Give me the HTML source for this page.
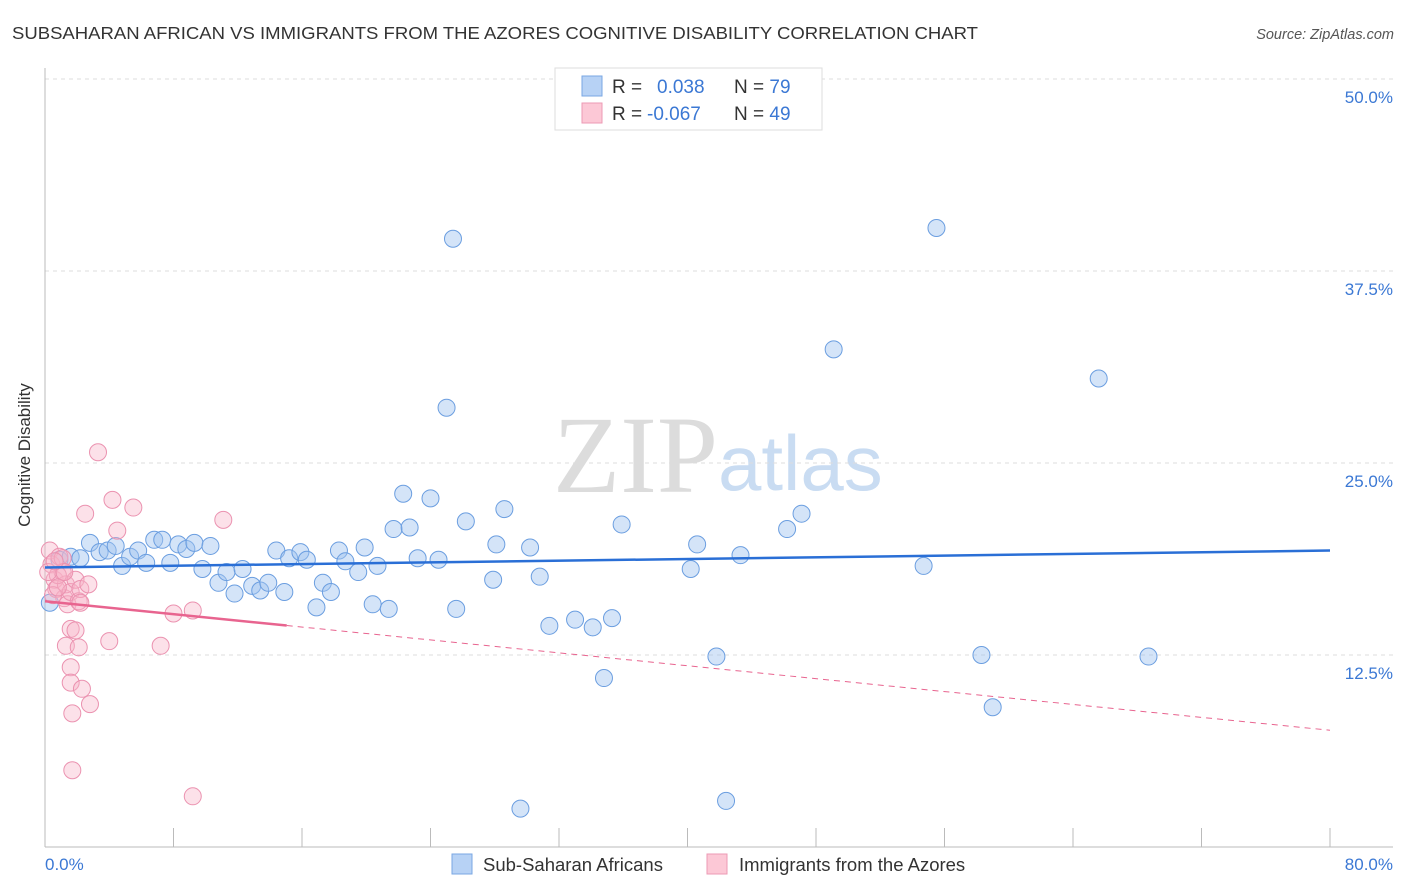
<!DOCTYPE html>
<html><head><meta charset="utf-8"><style>
body{margin:0;background:#fff;font-family:"Liberation Sans",sans-serif}
svg{display:block}
</style></head><body>
<svg width="1406" height="892" id="c">
<text x="12" y="39" font-size="17.5" fill="#333" textLength="966" lengthAdjust="spacingAndGlyphs">SUBSAHARAN AFRICAN VS IMMIGRANTS FROM THE AZORES COGNITIVE DISABILITY CORRELATION CHART</text>
<text x="1394" y="39" font-size="14.5" fill="#555" font-style="italic" text-anchor="end">Source: ZipAtlas.com</text>
<text x="553" y="492" font-size="110" fill="#dcdcdc" font-family="Liberation Serif,serif">ZIP</text>
<text x="718" y="490" font-size="78" fill="#c9dcf2">atlas</text>
<g id="grid"></g>
<line x1="45" y1="68" x2="45" y2="847" stroke="#bbb"/>
<line x1="45" y1="847" x2="1393" y2="847" stroke="#bbb"/>
<text x="30" y="455" font-size="17" fill="#333" text-anchor="middle" transform="rotate(-90 30 455)">Cognitive Disability</text>
<text x="45" y="870" font-size="17" fill="#3b78d4">0.0%</text>
<text x="1393" y="870" font-size="17" fill="#3b78d4" text-anchor="end">80.0%</text>
<g id="pts"></g>
<g>
<rect x="555" y="68" width="267" height="62" fill="#fff" stroke="#ddd"/>
<rect x="582" y="76" width="20" height="20" fill="#b7d2f5" stroke="#7aa7e3"/>
<rect x="582" y="103" width="20" height="20" fill="#fcc8d6" stroke="#ec9ab4"/>
<text x="612" y="93" font-size="19" fill="#333">R = <tspan fill="#3b78d4" x="657">0.038</tspan><tspan x="734" fill="#333">N = </tspan><tspan fill="#3b78d4">79</tspan></text>
<text x="612" y="120" font-size="19" fill="#333">R = <tspan fill="#3b78d4" x="647">-0.067</tspan><tspan x="734" fill="#333">N = </tspan><tspan fill="#3b78d4">49</tspan></text>
</g>
<g>
<rect x="452" y="854" width="20" height="20" fill="#b7d2f5" stroke="#7aa7e3"/>
<text x="483" y="871" font-size="18.5" fill="#333">Sub-Saharan Africans</text>
<rect x="707" y="854" width="20" height="20" fill="#fcc8d6" stroke="#ec9ab4"/>
<text x="739" y="871" font-size="18.5" fill="#333">Immigrants from the Azores</text>
</g>
</svg>
<script>
const yTicks=[12.5,25,37.5,50];
const xTickCount=[8,16,24,32,40,48,56,64,72,80];
const blueX=[0.3,0.9,1.6,2.2,2.8,3.4,3.9,4.4,4.8,5.3,5.8,6.3,6.8,7.3,7.8,8.3,8.8,9.3,9.8,10.3,10.8,11.3,11.8,12.3,12.9,13.4,13.9,14.4,14.9,15.2,15.9,16.3,16.9,17.3,17.8,18.3,18.7,19.5,19.9,20.4,20.7,21.4,21.7,22.3,22.7,23.2,24.0,24.5,25.0,25.4,25.6,26.2,27.9,28.1,28.6,29.6,30.2,30.8,31.4,33.0,34.1,34.8,35.3,35.9,40.2,40.6,41.8,42.4,43.3,46.2,47.1,49.1,54.7,55.5,58.3,59.0,65.6,68.7];
const blueY=[15.9,18.7,18.9,18.8,19.8,19.2,19.3,19.6,18.3,18.9,19.3,18.5,20.0,20.0,18.5,19.7,19.4,19.8,18.1,19.6,17.2,17.9,16.5,18.1,17.0,16.7,17.2,19.3,16.6,18.8,19.2,18.7,15.6,17.2,16.6,19.3,18.6,17.9,19.5,15.8,18.3,15.5,20.7,23.0,20.8,18.8,22.7,18.7,28.6,39.6,15.5,21.2,17.4,19.7,22.0,2.5,19.5,17.6,14.4,14.8,14.3,11.0,14.9,21.0,18.1,19.7,12.4,3.0,19.0,20.7,21.7,32.4,18.3,40.3,12.5,9.1,30.5,12.4];
const pinkX=[0.3,0.4,0.6,0.7,0.9,1.1,1.2,1.3,1.4,1.6,0.8,0.5,1.1,1.9,2.1,2.2,2.5,2.7,2.2,1.6,1.9,1.3,2.1,1.6,1.6,2.3,1.7,2.8,1.7,3.3,4.2,4.5,5.5,4.0,7.2,8.0,9.2,11.1,9.2,0.2,0.8,1.2,0.6];
const pinkY=[19.3,18.4,17.4,16.8,18.9,17.9,16.2,17.1,15.8,16.6,17.7,16.4,18.8,17.4,16.0,16.8,21.7,17.1,15.9,14.2,14.1,13.1,13.0,11.7,10.7,10.3,8.7,9.3,5.0,25.7,22.6,20.6,22.1,13.4,13.1,15.2,15.4,21.3,3.3,17.9,16.9,17.9,18.6];
const blueTrend=[18.2,19.3];
const pinkTrend=[16.0,7.6];
const pinkSolidEnd=14.42;
const NS='http://www.w3.org/2000/svg';
const X=v=>45+v*(1285/80);
const Y=v=>847-v*(768/50);
function mk(t,a,p){const e=document.createElementNS(NS,t);for(const k in a)e.setAttribute(k,a[k]);p.appendChild(e);return e;}
const grid=document.getElementById('grid');
yTicks.forEach(t=>{
  const l=mk('line',{x1:45,x2:1393,y1:Y(t),y2:Y(t),stroke:'#ddd','stroke-dasharray':'4,4'},grid);
  
  
  const tx=mk('text',{x:1393,y:Y(t)+24,'font-size':17,fill:'#3b78d4','text-anchor':'end'},grid);
  tx.textContent=t.toFixed(1)+'%';
  
  
});
xTickCount.forEach(t=>{
  const l=mk('line',{x1:X(t),x2:X(t),y1:828,y2:847,stroke:'#bbb'},grid);
  
  
});
const g=document.getElementById('pts');
blueX.forEach((v,i)=>{
  const c=mk('circle',{cx:X(v),cy:Y(blueY[i]),r:8.5,fill:'rgba(160,196,240,0.45)',stroke:'#6b9ee0','stroke-width':1},g);
  
  
});
pinkX.forEach((v,i)=>{
  const c=mk('circle',{cx:X(v),cy:Y(pinkY[i]),r:8.5,fill:'rgba(247,180,200,0.4)',stroke:'#eb92b0','stroke-width':1},g);
  
  
});
const bt=mk('line',{x1:X(0),y1:Y(blueTrend[0]),x2:X(80),y2:Y(blueTrend[1]),stroke:'#2a6fd6','stroke-width':2.5},g);


const slope=(pinkTrend[1]-pinkTrend[0])/80;
const xe=(pinkSolidEnd-pinkTrend[0])/slope;
const pt=mk('line',{x1:X(0),y1:Y(pinkTrend[0]),x2:X(xe),y2:Y(pinkSolidEnd),stroke:'#e8648f','stroke-width':2.5},g);


const pd=mk('line',{x1:X(xe),y1:Y(pinkSolidEnd),x2:X(80),y2:Y(pinkTrend[1]),stroke:'#e8648f','stroke-width':1,'stroke-dasharray':'6,5'},g);


</script>
</body></html>
